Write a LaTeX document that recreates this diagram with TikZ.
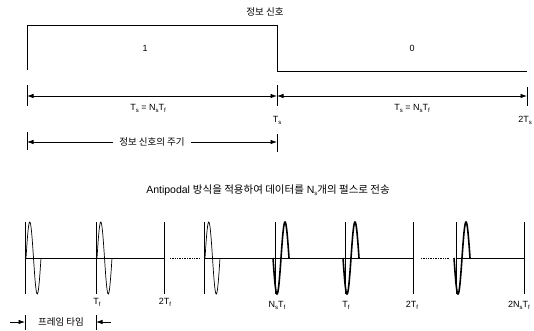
\documentclass[tikz,border=0pt]{standalone}
\usepackage{fontspec}
\setmainfont{Liberation Sans}
\newfontfamily\kr{Noto Sans CJK KR}
\usetikzlibrary{arrows.meta}
\newcommand\sbs[1]{\raisebox{-0.45ex}{\fontsize{6}{6}\selectfont #1}}
\begin{document}
\begin{tikzpicture}[x=1pt,y=-1pt,line width=0.75pt,
  dim/.style={{Latex[length=6.5pt,width=4.5pt]}-{Latex[length=6.5pt,width=4.5pt]}},
  onearrow/.style={-{Latex[length=6.5pt,width=4.5pt]}},
  tickln/.style={line width=0.6pt},
  lbl/.style={font=\fontsize{9}{10}\selectfont,inner sep=1pt},
  krl/.style={font=\kr\fontsize{9.5}{10}\selectfont,inner sep=1pt},
  pulsethin/.style={line width=0.7pt},
  pulsethick/.style={line width=1.6pt},
  dotln/.style={densely dotted,line width=0.7pt}]
\useasboundingbox (0,0) rectangle (534,330);

% ---- top waveform ----
\coordinate (w0) at (27,70);
\coordinate (w1) at (27,25);
\coordinate (w2) at (277,25);
\coordinate (w3) at (277,71);
\coordinate (w4) at (527,71);
\draw (w0) -- (w1) -- (w2) -- (w3) -- (w4);
\node[krl] (title) at (265,12) {정보 신호};
\node[lbl] (one) at (145,48) {1};
\node[lbl] (zero) at (412,48) {0};

% ---- dimension row 1 ----
\draw[tickln] (27,85) -- (27,106);
\draw[tickln] (277,85) -- (277,106);
\draw[tickln] (527,87) -- (527,106);
\coordinate (d1a) at (27,96);
\coordinate (d1b) at (277,96);
\coordinate (d1c) at (527,96);
\draw[dim] (d1a) -- (d1b);
\draw[dim] (d1b) -- (d1c);
\node[lbl] (eq1) at (148,108) {T\sbs{s} = N\sbs{s}T\sbs{f}};
\node[lbl] (eq2) at (412,108) {T\sbs{s} = N\sbs{s}T\sbs{f}};
\node[lbl] (ts) at (277,120) {T\sbs{s}};
\node[lbl] (tts) at (525,120) {2T\sbs{s}};

% ---- period row ----
\draw[tickln] (27,132) -- (27,150);
\draw[tickln] (277,134) -- (277,152);
\coordinate (p1) at (27,142);
\coordinate (p2) at (277,142);
\draw[dim] (p1) -- (p2);
\node[krl,fill=white,inner xsep=6pt] (per) at (152,142) {정보 신호의 주기};

% ---- heading ----
\node[font=\fontsize{10.5}{11}\selectfont,inner sep=1pt] (head) at (268,190)
  {Antipodal {\kr 방식을 적용하여 데이터를} N\sbs{s}{\kr 개의 펄스로 전송}};

% ---- bottom pulse train ----
\coordinate (b0) at (25,258);
\coordinate (b1) at (164,258);
\coordinate (c0) at (170,258);
\coordinate (c1) at (200,258);
\coordinate (b2) at (204,258);
\coordinate (b3) at (413,258);
\coordinate (c2) at (421,258);
\coordinate (c3) at (449,258);
\coordinate (b4) at (456,258);
\coordinate (b5) at (524,258);
\draw (b0) -- (b1);
\draw[dotln] (c0) -- (c1);
\draw (b2) -- (b3);
\draw[dotln] (c2) -- (c3);
\draw (b4) -- (b5);

\foreach \xx in {25,96,164,204,275,345,413,456,524}
  \draw[tickln] (\xx,222) -- (\xx,294);

\foreach \xx in {25,96,204}
  \draw[pulsethin] plot[domain=0:1,samples=41,smooth] ({\xx+1+15*\x},{258-36*sin(360*\x)});
\foreach \xx in {275,345,456}
  \draw[pulsethick] plot[domain=0:1,samples=41,smooth] ({\xx-2+16*\x},{258+36*sin(360*\x)});

\node[lbl] (l1) at (97,302) {T\sbs{f}};
\node[lbl] (l2) at (165,302) {2T\sbs{f}};
\node[lbl] (l3) at (277,305) {N\sbs{s}T\sbs{f}};
\node[lbl] (l4) at (346,305) {T\sbs{f}};
\node[lbl] (l5) at (412,305) {2T\sbs{f}};
\node[lbl] (l6) at (519,305) {2N\sbs{s}T\sbs{f}};

% ---- frame time ----
\draw[tickln] (25,315) -- (25,330);
\draw[tickln] (96,315) -- (96,330);
\coordinate (f0) at (10,322);
\coordinate (f1) at (25,322);
\coordinate (f2) at (111,322);
\coordinate (f3) at (96,322);
\draw[onearrow] (f0) -- (f1);
\draw[onearrow] (f2) -- (f3);
\node[krl] (frame) at (61,322) {프레임 타임};
\end{tikzpicture}
\end{document}
